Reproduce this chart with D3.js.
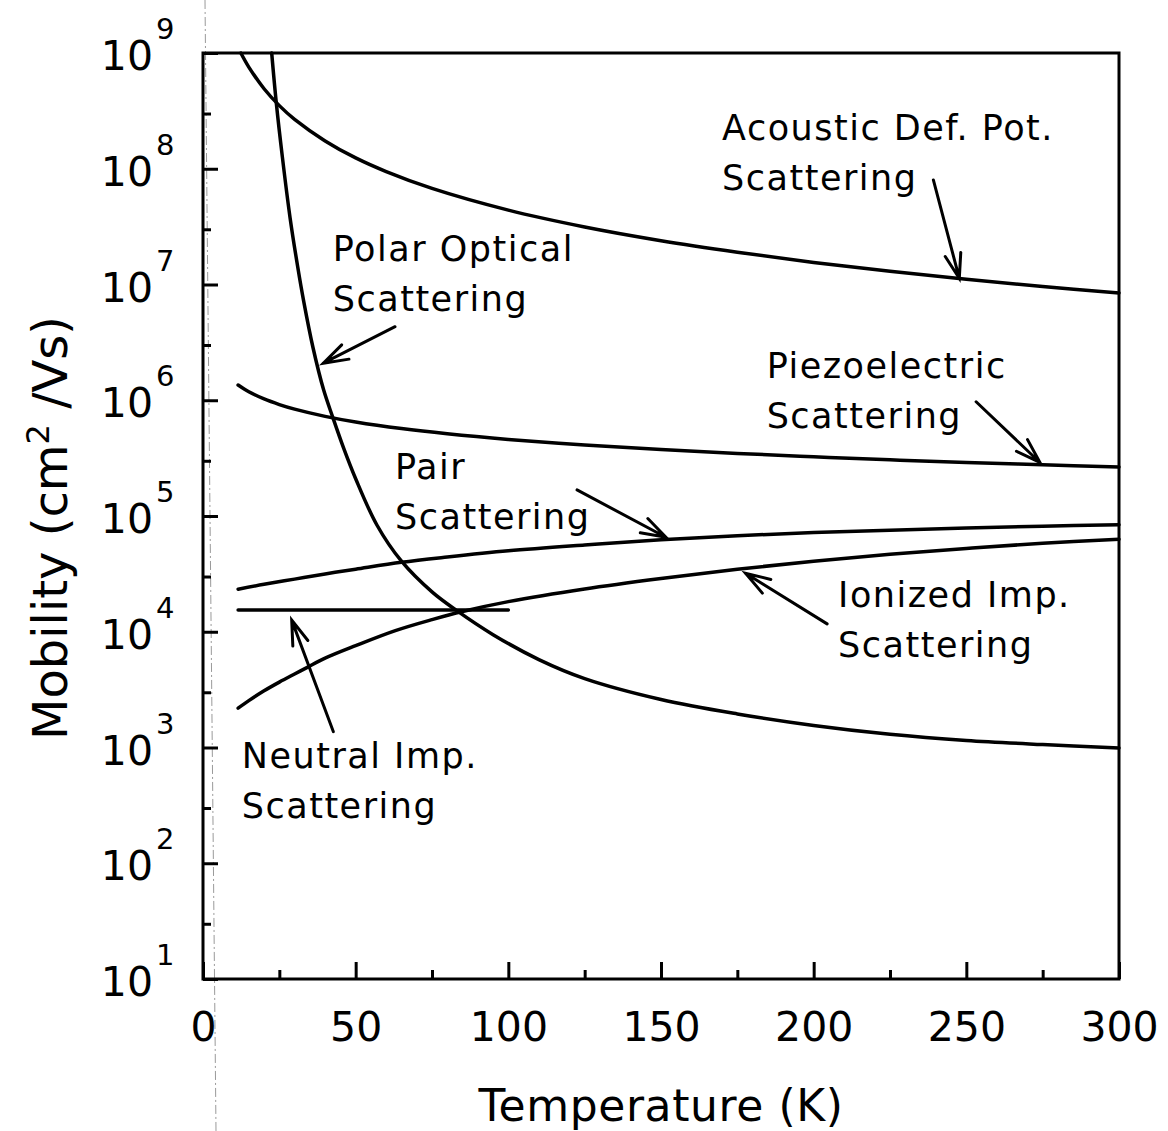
<!DOCTYPE html>
<html>
<head>
<meta charset="utf-8">
<script src="https://cdn.jsdelivr.net/npm/d3@7"></script>
<style>
  body { margin: 0; background: #fff; }
  svg { display: block; }
  text { font-family: "DejaVu Sans", sans-serif; fill: #000; }
</style>
</head>
<body>
<svg id="chart" width="1168" height="1131"></svg>
<script>
// Electron mobility limited by each scattering mechanism vs. temperature.
// Temperatures in K, mobilities in cm^2/Vs.

const acousticT  = [12.4, 15, 20, 25, 30, 40, 50, 60, 75, 100, 125, 150, 175, 200, 225, 250, 275, 300];
const acousticMu = [1.0e9, 7.56e8, 4.91e8, 3.51e8, 2.67e8, 1.74e8, 1.24e8, 9.45e7, 6.76e7, 4.39e7,
                    3.14e7, 2.39e7, 1.90e7, 1.55e7, 1.30e7, 1.11e7, 9.6e6, 8.45e6];

const polarT  = [22.5, 24, 26, 28.5, 31, 33, 36, 39.5, 42.5, 46, 50, 57, 65, 75, 83, 95, 110, 125,
                 150, 175, 200, 225, 250, 275, 300];
const polarMu = [1.0e9, 3.72e8, 1.26e8, 3.8e7, 1.43e7, 7.11e6, 2.87e6, 1.23e6, 7.13e5, 3.9e5, 2.1e5,
                 8.32e4, 4.07e4, 2.21e4, 1.53e4, 9.44e3, 5.75e3, 3.94e3, 2.6e3, 1.95e3, 1.55e3,
                 1.30e3, 1.15e3, 1.06e3, 990];

const piezoT  = [11.5, 15, 20, 25, 30, 40, 50, 65, 80, 100, 125, 150, 175, 200, 225, 250, 275, 300];
const piezoMu = [1.354e6, 1.185e6, 1.026e6, 9.18e5, 8.38e5, 7.26e5, 6.49e5, 5.69e5, 5.13e5, 4.59e5,
                 4.11e5, 3.75e5, 3.47e5, 3.25e5, 3.06e5, 2.90e5, 2.77e5, 2.65e5];

const pairT  = [11.5, 20, 30, 40, 50, 65, 80, 100, 125, 150, 175, 200, 225, 250, 275, 300];
const pairMu = [2.33e4, 2.57e4, 2.85e4, 3.16e4, 3.47e4, 3.98e4, 4.42e4, 5.0e4, 5.62e4, 6.24e4,
                6.76e4, 7.19e4, 7.55e4, 7.89e4, 8.17e4, 8.41e4];

const ionizedT  = [11.5, 15, 20, 25, 30, 34, 40, 50, 63, 75, 85, 100, 125, 150, 175, 200, 225, 250, 275, 300];
const ionizedMu = [2188, 2541, 3090, 3673, 4315, 4898, 5916, 7586, 10233, 12735, 14962, 18197,
                   23442, 28840, 34674, 40738, 46774, 52481, 58210, 63096];

const neutralT  = [11.5, 100];
const neutralMu = [1.54e4, 1.54e4];

// Axis ticks
const xMajorTicks = [0, 50, 100, 150, 200, 250, 300];
const xMinorTicks = [25, 75, 125, 175, 225, 275];
const yExponents  = [1, 2, 3, 4, 5, 6, 7, 8, 9];
const yMinorTicks = [3e1, 3e2, 3e3, 3e4, 3e5, 3e6, 3e7, 3e8];

// Callout labels: text lines, label anchor (T, mu), arrow tail and tip (T, mu)
const callouts = [
  { lines: ["Acoustic Def. Pot.", "Scattering"], at: [170, 1.77e8], tail: [239.2, 8.0e7], tip: [247.7, 1.13e7] },
  { lines: ["Piezoelectric", "Scattering"],      at: [184.6, 1.55e6], tail: [253.2, 9.7e5], tip: [274.1, 2.9e5] },
  { lines: ["Polar Optical", "Scattering"],      at: [42.5, 1.61e7], tail: [62.9, 4.32e6], tip: [39.4, 2.09e6] },
  { lines: ["Pair", "Scattering"],               at: [62.9, 2.07e5], tail: [122.5, 1.68e5], tip: [151.6, 6.55e4] },
  { lines: ["Ionized Imp.", "Scattering"],       at: [208, 1.64e4], tail: [204.4, 1.17e4], tip: [177.7, 3.2e4] },
  { lines: ["Neutral Imp.", "Scattering"],       at: [12.7, 661], tail: [42.7, 1.37e3], tip: [29.05, 1.26e4] }
];

const svg = d3.select("#chart");
const plot = { left: 203, right: 1119, top: 53, bottom: 979 };

const x = d3.scaleLinear().domain([0, 300]).range([plot.left, plot.right]);
const y = d3.scaleLog().domain([10, 1e9]).range([plot.bottom, plot.top]);

svg.append("rect").attr("width", 1168).attr("height", 1131).attr("fill", "#fff");

// faint dotted rule running down the sheet
svg.append("line")
  .attr("x1", 205).attr("y1", 0).attr("x2", 216).attr("y2", 1131)
  .attr("stroke", "#9a9a9a").attr("stroke-width", 1)
  .attr("stroke-dasharray", "9 3 2 3");

// ---- axes ----
function styleTicks(g) {
  g.select(".domain").remove();
  g.selectAll(".tick line").attr("stroke", "#000").attr("stroke-width", 3);
}

const xMajor = svg.append("g").attr("transform", `translate(0,${plot.bottom})`)
  .call(d3.axisBottom(x).tickValues(xMajorTicks).tickSizeInner(-17).tickSizeOuter(0).tickFormat(d3.format("d")));
styleTicks(xMajor);
xMajor.selectAll(".tick text")
  .attr("y", 62).attr("dy", 0).attr("fill", "#000")
  .style("font-size", "41px").style("font-family", "DejaVu Sans");

const xMinor = svg.append("g").attr("transform", `translate(0,${plot.bottom})`)
  .call(d3.axisBottom(x).tickValues(xMinorTicks).tickSizeInner(-9).tickSizeOuter(0).tickFormat(""));
styleTicks(xMinor);

const yMajor = svg.append("g").attr("transform", `translate(${plot.left},0)`)
  .call(d3.axisLeft(y).tickValues(yExponents.map(e => Math.pow(10, e))).tickSizeInner(-15).tickSizeOuter(0).tickFormat(""));
styleTicks(yMajor);

const yMinor = svg.append("g").attr("transform", `translate(${plot.left},0)`)
  .call(d3.axisLeft(y).tickValues(yMinorTicks).tickSizeInner(-8).tickSizeOuter(0).tickFormat(""));
styleTicks(yMinor);

// decade labels 10^n
const yLab = svg.append("g");
yExponents.forEach(e => {
  const yy = y(Math.pow(10, e));
  yLab.append("text").attr("x", 153).attr("y", yy + 17)
    .attr("text-anchor", "end").style("font-size", "41px").text("10");
  yLab.append("text").attr("x", 156).attr("y", yy - 14)
    .style("font-size", "29px").text(e);
});

// frame
svg.append("rect")
  .attr("x", plot.left).attr("y", plot.top)
  .attr("width", plot.right - plot.left).attr("height", plot.bottom - plot.top)
  .attr("fill", "none").attr("stroke", "#000").attr("stroke-width", 3);

// axis titles
svg.append("text")
  .attr("x", 661).attr("y", 1121).attr("text-anchor", "middle")
  .style("font-size", "44px").style("letter-spacing", "0.6px")
  .text("Temperature (K)");

const yTitle = svg.append("text")
  .attr("transform", "translate(67,528) rotate(-90)")
  .attr("text-anchor", "middle")
  .style("font-size", "48px");
yTitle.append("tspan").text("Mobility (cm");
yTitle.append("tspan").attr("dy", -18).style("font-size", "32px").text("2");
yTitle.append("tspan").attr("dy", 18).text(" /Vs)");

// ---- curves ----
const line = d3.line()
  .x(d => x(d[0]))
  .y(d => y(d[1]))
  .curve(d3.curveCatmullRom.alpha(0.5));

const series = [
  [acousticT, acousticMu],
  [polarT, polarMu],
  [piezoT, piezoMu],
  [pairT, pairMu],
  [ionizedT, ionizedMu],
  [neutralT, neutralMu]
];

svg.append("g").selectAll("path")
  .data(series.map(([t, m]) => t.map((v, i) => [v, m[i]])))
  .join("path")
  .attr("d", line)
  .attr("fill", "none")
  .attr("stroke", "#000")
  .attr("stroke-width", 3.5)
  .attr("stroke-linecap", "round")
  .attr("stroke-linejoin", "round");

// ---- callouts ----
const notes = svg.append("g");
callouts.forEach(c => {
  const t = notes.append("text")
    .attr("x", x(c.at[0])).attr("y", y(c.at[1]))
    .style("font-size", "35px").style("letter-spacing", "1.5px");
  c.lines.forEach((s, i) => {
    t.append("tspan").attr("x", x(c.at[0])).attr("dy", i === 0 ? 0 : 50).text(s);
  });

  const x0 = x(c.tail[0]), y0 = y(c.tail[1]);
  const x1 = x(c.tip[0]),  y1 = y(c.tip[1]);
  const ang = Math.atan2(y0 - y1, x0 - x1);
  const len = 26, spread = 18 * Math.PI / 180;
  const b1 = [x1 + len * Math.cos(ang + spread), y1 + len * Math.sin(ang + spread)];
  const b2 = [x1 + len * Math.cos(ang - spread), y1 + len * Math.sin(ang - spread)];
  const p = d3.path();
  p.moveTo(x0, y0); p.lineTo(x1, y1);
  p.moveTo(b1[0], b1[1]); p.lineTo(x1, y1); p.lineTo(b2[0], b2[1]);
  notes.append("path").attr("d", p.toString())
    .attr("fill", "none").attr("stroke", "#000")
    .attr("stroke-width", 3).attr("stroke-linecap", "round").attr("stroke-linejoin", "miter");
});
</script>
</body>
</html>
